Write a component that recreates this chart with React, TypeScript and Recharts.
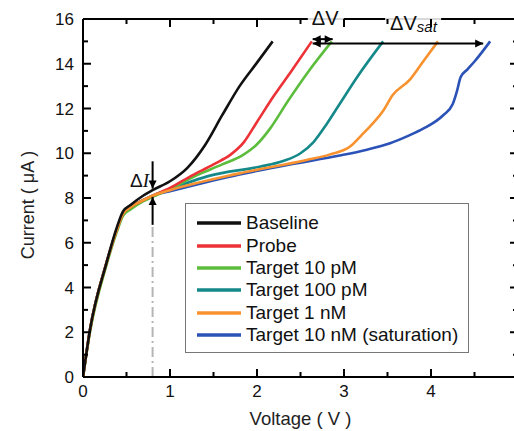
import React from "react";
import { LineChart, Line, XAxis, YAxis, Legend, ReferenceLine, ReferenceDot } from "recharts";

const FONT = "'Liberation Sans', Arial, sans-serif";

const seriesNames = [
  "Baseline",
  "Probe",
  "Target 10 pM",
  "Target 100 pM",
  "Target 1 nM",
  "Target 10 nM (saturation)",
];
const seriesColors = ["#111111", "#ec3236", "#5cbd3d", "#15898a", "#f8922f", "#2b52b6"];

// voltage (V) / current (uA)
const baselineV = [0, 0.08, 0.27, 0.39, 0.46, 0.55, 0.69, 0.8, 1.0, 1.2, 1.4, 1.6, 1.8, 2.0, 2.18];
const baselineI = [0, 2.1, 5.1, 6.7, 7.4, 7.7, 8.1, 8.35, 8.75, 9.35, 10.35, 11.7, 13.0, 14.05, 15];

const probeV = [0, 0.08, 0.27, 0.39, 0.46, 0.55, 0.69, 0.8, 1.0, 1.25, 1.5, 1.7, 1.85, 2.0, 2.2, 2.4, 2.63];
const probeI = [0, 2.1, 5.1, 6.6, 7.3, 7.6, 7.9, 8.1, 8.45, 9.0, 9.5, 9.95, 10.5, 11.4, 12.6, 13.7, 15];

const t10pV = [0, 0.08, 0.27, 0.39, 0.46, 0.55, 0.69, 0.8, 1.0, 1.3, 1.6, 1.85, 2.0, 2.15, 2.35, 2.6, 2.86];
const t10pI = [0, 2.0, 5.0, 6.5, 7.2, 7.5, 7.85, 8.05, 8.4, 9.0, 9.5, 9.95, 10.4, 11.1, 12.3, 13.7, 15];

const t100pV = [0, 0.08, 0.27, 0.39, 0.46, 0.55, 0.69, 0.8, 1.0, 1.46, 2.03, 2.3, 2.5, 2.65, 2.8, 2.95, 3.15, 3.45];
const t100pI = [0, 2.1, 5.1, 6.6, 7.3, 7.6, 7.9, 8.1, 8.4, 9.0, 9.4, 9.65, 10.0, 10.5, 11.3, 12.2, 13.4, 15];

const t1nV = [0, 0.08, 0.27, 0.39, 0.46, 0.55, 0.69, 0.8, 1.0, 1.8, 2.57, 2.84, 3.07, 3.2, 3.3, 3.45, 3.56, 3.76, 3.91, 4.08];
const t1nI = [0, 2.1, 5.1, 6.6, 7.3, 7.6, 7.9, 8.1, 8.35, 9.1, 9.7, 9.95, 10.3, 10.8, 11.2, 11.9, 12.6, 13.3, 14.1, 15];

const t10nV = [0, 0.08, 0.27, 0.39, 0.46, 0.55, 0.69, 0.8, 1.0, 1.8, 2.38, 2.95, 3.25, 3.53, 3.75, 3.91, 4.14, 4.25, 4.3, 4.34, 4.42, 4.5, 4.68];
const t10nI = [0, 2.1, 5.1, 6.6, 7.3, 7.6, 7.9, 8.1, 8.3, 9.05, 9.5, 9.9, 10.15, 10.45, 10.8, 11.1, 11.7, 12.2, 12.8, 13.4, 13.75, 14.1, 15];

const xTicks = [0, 0.5, 1, 1.5, 2, 2.5, 3, 3.5, 4, 4.5, 5];
const yTicks = [0, 1, 2, 3, 4, 5, 6, 7, 8, 9, 10, 11, 12, 13, 14, 15, 16];

const toPoints = (v: number[], i: number[]) => v.map((x, k) => ({ v: x, i: i[k] }));

const series = [
  toPoints(baselineV, baselineI),
  toPoints(probeV, probeI),
  toPoints(t10pV, t10pI),
  toPoints(t100pV, t100pI),
  toPoints(t1nV, t1nI),
  toPoints(t10nV, t10nI),
];
// drawing order, baseline last (on top)
const drawOrder = [5, 3, 2, 1, 4, 0];

function XTick(props: any) {
  const { x, y, payload, side } = props;
  const major = Number.isInteger(payload.value);
  const len = major ? 8 : 5;
  const dir = side === "bottom" ? -1 : 1;
  return (
    <g>
      <line x1={x} x2={x} y1={y} y2={y + dir * len} stroke="#000" strokeWidth={2} />
      {side === "bottom" && major && payload.value < 5 && (
        <text x={x} y={y + 20} textAnchor="middle" fontSize={17} fontFamily={FONT} fill="#111">
          {payload.value}
        </text>
      )}
    </g>
  );
}

function YTick(props: any) {
  const { x, y, payload, side } = props;
  const major = payload.value % 2 === 0;
  const len = major ? 8 : 5;
  const dir = side === "left" ? 1 : -1;
  return (
    <g>
      <line x1={x} x2={x + dir * len} y1={y} y2={y} stroke="#000" strokeWidth={2} />
      {side === "left" && major && (
        <text x={x - 9} y={y + 6} textAnchor="end" fontSize={17} fontFamily={FONT} fill="#111">
          {payload.value}
        </text>
      )}
    </g>
  );
}

function head(x: number, y: number, ang: number) {
  const L = 8;
  const W = 4;
  const bx = x - L * Math.cos(ang);
  const by = y - L * Math.sin(ang);
  const px = -Math.sin(ang) * W;
  const py = Math.cos(ang) * W;
  return `${x},${y} ${bx + px},${by + py} ${bx - px},${by - py}`;
}

const arrow = (atStart: boolean, atEnd: boolean) => (p: any) => {
  const { x1, y1, x2, y2 } = p;
  const ang = Math.atan2(y2 - y1, x2 - x1);
  return (
    <g>
      <line x1={x1} y1={y1} x2={x2} y2={y2} stroke="#000" strokeWidth={2} />
      {atStart && <polygon points={head(x1, y1, ang + Math.PI)} fill="#000" />}
      {atEnd && <polygon points={head(x2, y2, ang)} fill="#000" />}
    </g>
  );
};

const deltaV = (p: any) => (
  <g>
    <rect x={p.cx - 4} y={p.cy - 16} width={36} height={14} fill="#fff" fillOpacity={0.85} />
    <text x={p.cx} y={p.cy} fontSize={20} fontFamily={FONT} fill="#111">
      ΔV
    </text>
  </g>
);

const deltaVsat = (p: any) => (
  <g>
    <rect x={p.cx - 5} y={p.cy - 16} width={56} height={14} fill="#fff" fillOpacity={0.85} />
    <text x={p.cx} y={p.cy} fontSize={20} fontFamily={FONT} fill="#111">
      ΔV
      <tspan fontSize={15} fontStyle="italic" dy={2}>
        sat
      </tspan>
    </text>
  </g>
);

const deltaI = (p: any) => (
  <text x={p.cx} y={p.cy} fontSize={19} fill="#111">
    <tspan fontFamily={FONT}>Δ</tspan>
    <tspan fontFamily="'Liberation Serif', serif" fontStyle="italic">
      I
    </tspan>
  </text>
);

function LegendBox() {
  return (
    <div
      style={{
        width: 284,
        height: 150,
        boxSizing: "border-box",
        border: "1px solid #777",
        background: "#fff",
        paddingTop: 8,
        fontFamily: FONT,
        fontSize: 19,
        color: "#111",
      }}
    >
      {seriesNames.map((name, k) => (
        <div key={name} style={{ display: "flex", alignItems: "center", height: 22.4 }}>
          <svg width={56} height={8} style={{ flex: "none" }}>
            <line x1={11} x2={55} y1={4} y2={4} stroke={seriesColors[k]} strokeWidth={3.5} />
          </svg>
          <span style={{ marginLeft: 4, whiteSpace: "nowrap" }}>{name}</span>
        </div>
      ))}
    </div>
  );
}

export default function App() {
  return (
    <div style={{ position: "absolute", left: 0, top: 0, width: 514, height: 431, overflow: "hidden", background: "#fff" }}>
      <LineChart width={530} height={431} margin={{ top: 18, right: 11, left: 0, bottom: 0 }}>
        <XAxis
          xAxisId="bottom"
          type="number"
          dataKey="v"
          domain={[0, 5]}
          ticks={xTicks}
          interval={0}
          allowDataOverflow
          height={54}
          tickSize={0}
          tickMargin={0}
          tickLine={false}
          axisLine={{ stroke: "#000", strokeWidth: 2 }}
          tick={<XTick side="bottom" />}
          label={{
            content: (lp: any) => {
              const vb = lp.viewBox;
              return (
                <text x={vb.x + vb.width / 2} y={vb.y + 48} textAnchor="middle" fontSize={18.5} fontFamily={FONT} fill="#222">
                  Voltage ( V )
                </text>
              );
            },
          }}
        />
        <XAxis
          xAxisId="top"
          orientation="top"
          type="number"
          dataKey="v"
          domain={[0, 5]}
          ticks={xTicks}
          interval={0}
          allowDataOverflow
          height={1}
          tickSize={0}
          tickMargin={0}
          tickLine={false}
          axisLine={{ stroke: "#000", strokeWidth: 2 }}
          tick={<XTick side="top" />}
        />
        <YAxis
          yAxisId="left"
          type="number"
          domain={[0, 16]}
          ticks={yTicks}
          interval={0}
          allowDataOverflow
          width={83}
          tickSize={0}
          tickMargin={0}
          tickLine={false}
          axisLine={{ stroke: "#000", strokeWidth: 2 }}
          tick={<YTick side="left" />}
          label={{
            content: (lp: any) => {
              const vb = lp.viewBox;
              const cx = vb.x + 28;
              const cy = vb.y + vb.height / 2 + 7;
              return (
                <text
                  x={cx}
                  y={cy}
                  transform={`rotate(-90 ${cx} ${cy})`}
                  textAnchor="middle"
                  dominantBaseline="central"
                  fontSize={18}
                  fontFamily={FONT}
                  fill="#222"
                >
                  Current ( μA )
                </text>
              );
            },
          }}
        />
        <YAxis
          yAxisId="right"
          orientation="right"
          type="number"
          domain={[0, 16]}
          ticks={yTicks}
          interval={0}
          allowDataOverflow
          width={1}
          tickSize={0}
          tickMargin={0}
          tickLine={false}
          axisLine={{ stroke: "#000", strokeWidth: 2 }}
          tick={<YTick side="right" />}
        />

        <ReferenceLine
          xAxisId="bottom"
          yAxisId="left"
          segment={[{ x: 0.8, y: 0 }, { x: 0.8, y: 6.8 }]}
          stroke="#b5b5b5"
          strokeWidth={2}
          strokeDasharray="10 4 2 4"
        />

        {drawOrder.map((k) => (
          <Line
            key={seriesNames[k]}
            xAxisId="bottom"
            yAxisId="left"
            data={series[k]}
            dataKey="i"
            name={seriesNames[k]}
            type="monotone"
            stroke={seriesColors[k]}
            strokeWidth={2.6}
            dot={false}
            isAnimationActive={false}
          />
        ))}

        <ReferenceLine xAxisId="bottom" yAxisId="left" segment={[{ x: 0.8, y: 9.64 }, { x: 0.8, y: 8.42 }]} shape={arrow(false, true)} />
        <ReferenceLine xAxisId="bottom" yAxisId="left" segment={[{ x: 0.8, y: 6.8 }, { x: 0.8, y: 8.05 }]} shape={arrow(false, true)} />
        <ReferenceLine xAxisId="bottom" yAxisId="left" segment={[{ x: 2.64, y: 15.1 }, { x: 2.87, y: 15.1 }]} shape={arrow(true, true)} />
        <ReferenceLine xAxisId="bottom" yAxisId="left" segment={[{ x: 2.64, y: 14.9 }, { x: 4.6, y: 14.9 }]} shape={arrow(true, true)} />

        <ReferenceDot xAxisId="bottom" yAxisId="left" x={2.63} y={15.72} ifOverflow="visible" shape={deltaV} />
        <ReferenceDot xAxisId="bottom" yAxisId="left" x={3.53} y={15.5} ifOverflow="visible" shape={deltaVsat} />
        <ReferenceDot xAxisId="bottom" yAxisId="left" x={0.54} y={8.5} ifOverflow="visible" shape={deltaI} />

        <Legend
          layout="vertical"
          align="center"
          verticalAlign="middle"
          content={() => <LegendBox />}
          wrapperStyle={{ left: 185, top: 203, width: 284, height: 150 }}
        />
      </LineChart>
    </div>
  );
}
